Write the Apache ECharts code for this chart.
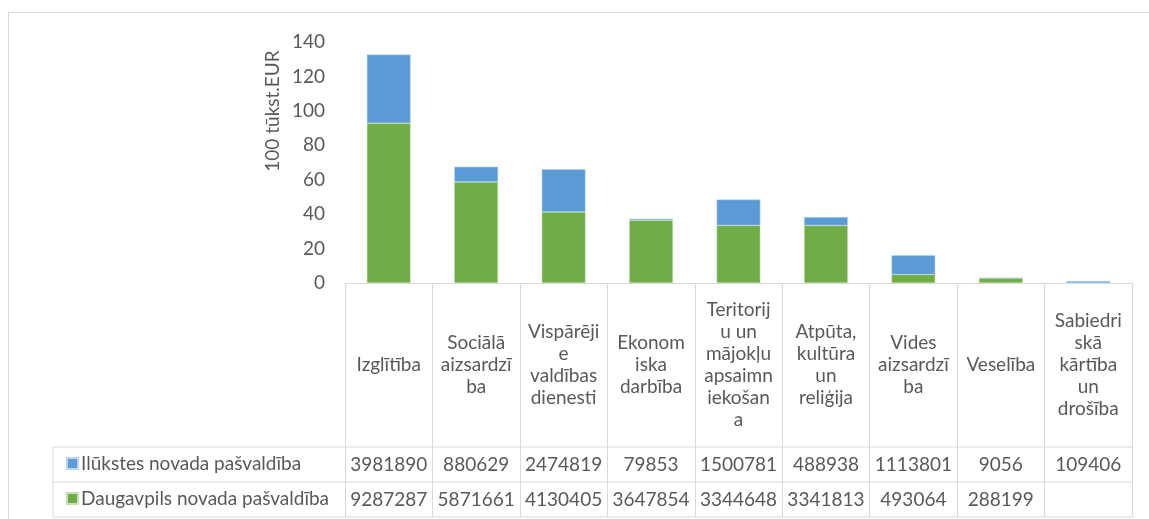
<!DOCTYPE html>
<html>
<head>
<meta charset="utf-8">
<script src="https://cdn.jsdelivr.net/npm/echarts@6/dist/echarts.min.js"></script>
<style>
  html, body { margin: 0; padding: 0; background: #fff; }
  #main { width: 1149px; height: 519px; }
</style>
</head>
<body>
<div id="main"></div>
<script>
// kategorijas (teksts aplauzts kā oriģinālā)
var categories = [
	'Izglītība',
	'Sociālā\naizsardzī\nba',
	'Vispārēji\ne\nvaldības\ndienesti',
	'Ekonom\niska\ndarbība',
	'Teritorij\nu un\nmājokļu\napsaimn\niekošan\na',
	'Atpūta,\nkultūra\nun\nreliģija',
	'Vides\naizsardzī\nba',
	'Veselība',
	'Sabiedri\nskā\nkārtība\nun\ndrošība'
];
var ilukstes = [3981890, 880629, 2474819, 79853, 1500781, 488938, 1113801, 9056, 109406];
var daugavpils = [9287287, 5871661, 4130405, 3647854, 3344648, 3341813, 493064, 288199, null];
var seriesNames = ['Ilūkstes novada pašvaldība', 'Daugavpils novada pašvaldība'];
var yTicks = { min: 0, max: 140, interval: 20 };
var unit = 100000; // 100 tūkst. EUR

var textColor = '#595959',
	lineColor = '#d9d9d9',
	fontFamily = 'Lato, "Open Sans", sans-serif',
	fontSize = 19;

// izkārtojums
var gridLeft = 345, gridRight = 17, gridTop = 42, axisY = 283;
var headerH = 164, rowH = 35, tableLeft = 53;
var tableRight = 1149 - gridRight;

function scaled(arr) {
	return arr.map(function (v) { return v == null ? null : v / unit; });
}
function rowAxis(values, margin) {
	return {
		type: 'category',
		data: categories,
		position: 'bottom',
		axisLine: { show: false },
		axisTick: { show: false },
		axisLabel: {
			margin: margin,
			interval: 0,
			verticalAlign: 'middle',
			color: textColor,
			fontFamily: fontFamily,
			fontSize: fontSize,
			formatter: function (v, i) { return values[i] == null ? '' : String(values[i]); }
		}
	};
}
function rowLegend(name, row) {
	return {
		data: [name],
		left: tableLeft + 8,
		top: axisY + headerH + rowH * row + rowH / 2 - 16,
		itemWidth: 11,
		itemHeight: 11,
		icon: 'rect',
		selectedMode: false,
		textStyle: { color: textColor, fontFamily: fontFamily, fontSize: fontSize, lineHeight: 20, padding: [0, 0, 0, -2] }
	};
}

var myChart = echarts.init(document.getElementById('main'));
var option = {
	animation: false,
	grid: { left: gridLeft, right: gridRight, top: gridTop, bottom: 519 - axisY, containLabel: false },
	legend: [rowLegend(seriesNames[0], 0), rowLegend(seriesNames[1], 1)],
	xAxis: [
		{
			type: 'category',
			data: categories,
			axisLine: { lineStyle: { color: lineColor, width: 1 } },
			axisTick: { show: true, length: headerH + 2 * rowH, lineStyle: { color: lineColor, width: 1 } },
			axisLabel: {
				margin: headerH / 2,
				interval: 0,
				verticalAlign: 'middle',
				align: 'center',
				lineHeight: 22,
				color: textColor,
				fontFamily: fontFamily,
				fontSize: fontSize
			}
		},
		rowAxis(ilukstes, headerH + rowH / 2),
		rowAxis(daugavpils, headerH + rowH * 1.5)
	],
	yAxis: {
		type: 'value',
		min: yTicks.min,
		max: yTicks.max,
		interval: yTicks.interval,
		splitLine: { show: false },
		axisLine: { show: false },
		axisTick: { show: false },
		axisLabel: { margin: 20, color: textColor, fontFamily: fontFamily, fontSize: fontSize }
	},
	series: [
		{
			name: seriesNames[1],
			type: 'bar',
			stack: 'kopā',
			barWidth: '50%',
			itemStyle: { color: '#70ad47', borderColor: '#c5e0b4', borderWidth: 0.5 },
			data: scaled(daugavpils)
		},
		{
			name: seriesNames[0],
			type: 'bar',
			stack: 'kopā',
			barWidth: '50%',
			itemStyle: { color: '#5b9bd5', borderColor: '#bdd7ee', borderWidth: 0.5 },
			data: scaled(ilukstes)
		}
	],
	graphic: [
		// ārējais rāmis
		{ type: 'rect', shape: { x: 8.5, y: 12.5, width: 1400, height: 800 }, style: { fill: null, stroke: lineColor, lineWidth: 1 }, silent: true },
		// datu tabulas horizontālās līnijas
		{ type: 'line', shape: { x1: tableLeft, y1: axisY + headerH, x2: tableRight, y2: axisY + headerH }, style: { stroke: lineColor, lineWidth: 1 } },
		{ type: 'line', shape: { x1: tableLeft, y1: axisY + headerH + rowH, x2: tableRight, y2: axisY + headerH + rowH }, style: { stroke: lineColor, lineWidth: 1 } },
		{ type: 'line', shape: { x1: tableLeft, y1: axisY + headerH + 2 * rowH, x2: tableRight, y2: axisY + headerH + 2 * rowH }, style: { stroke: lineColor, lineWidth: 1 } },
		{ type: 'line', shape: { x1: tableLeft, y1: axisY + headerH, x2: tableLeft, y2: axisY + headerH + 2 * rowH }, style: { stroke: lineColor, lineWidth: 1 } },
		// ass nosaukums
		{
			type: 'text',
			x: 273, y: 111,
			rotation: Math.PI / 2,
			style: { text: '100 tūkst.EUR', fill: textColor, font: fontSize + 'px ' + fontFamily, textAlign: 'center', textVerticalAlign: 'middle' }
		}
	]
};
myChart.setOption(option);
</script>
</body>
</html>
